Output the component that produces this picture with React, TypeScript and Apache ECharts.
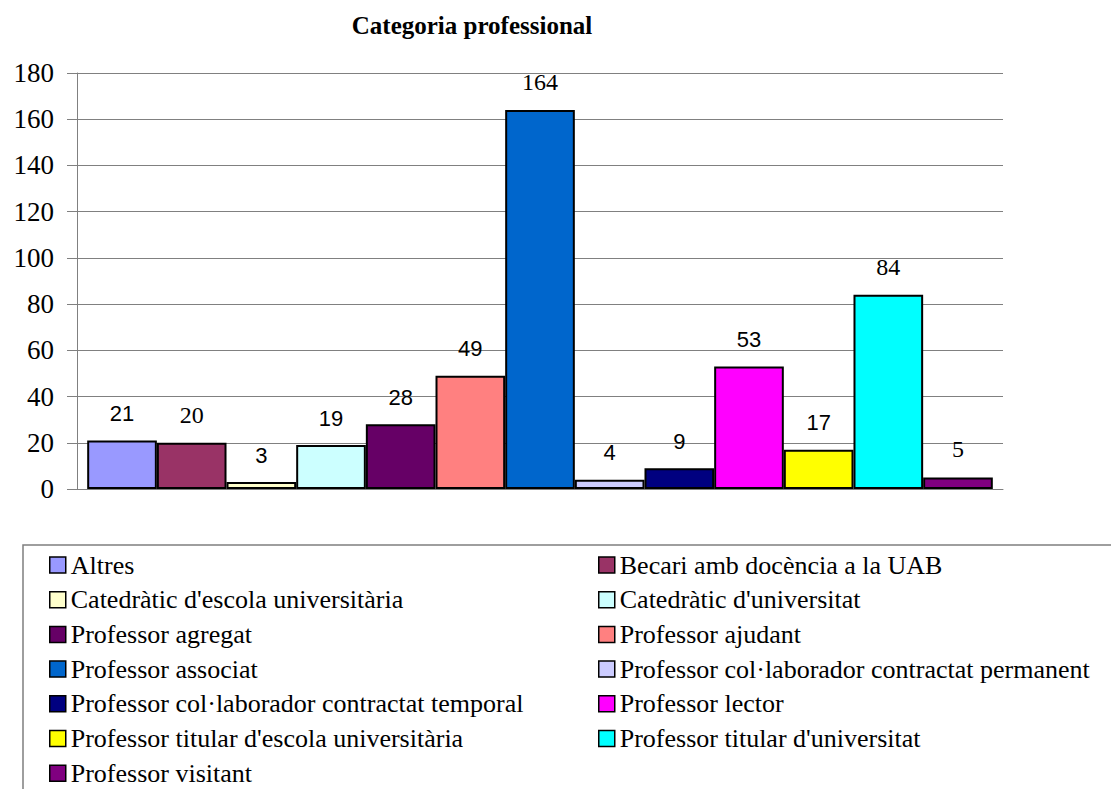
import React, { useEffect, useRef } from "react";
import * as echarts from "echarts";

const chartTitle = "Categoria professional";
const categories = [""];
const seriesNames = [
  "Altres",
  "Becari amb docència a la UAB",
  "Catedràtic d'escola universitària",
  "Catedràtic d'universitat",
  "Professor agregat",
  "Professor ajudant",
  "Professor associat",
  "Professor col·laborador contractat permanent",
  "Professor col·laborador contractat temporal",
  "Professor lector",
  "Professor titular d'escola universitària",
  "Professor titular d'universitat",
  "Professor visitant",
];
const seriesValues = [21, 20, 3, 19, 28, 49, 164, 4, 9, 53, 17, 84, 5];
const seriesColors = [
  "#9999FF",
  "#993366",
  "#FFFFCC",
  "#CCFFFF",
  "#660066",
  "#FF8080",
  "#0066CC",
  "#CCCCFF",
  "#000080",
  "#FF00FF",
  "#FFFF00",
  "#00FFFF",
  "#800080",
];
// label typeface per series (as rendered in the original)
const labelSerif = [false, true, false, false, false, false, true, false, false, false, false, true, true];
const yMin = 0;
const yMax = 180;
const yInterval = 20;

const SERIF = "Liberation Serif";
const SANS = "Liberation Sans";

export default function App() {
  const ref = useRef<HTMLDivElement>(null);

  useEffect(() => {
    if (!ref.current) return;
    const chart = echarts.init(ref.current, undefined, { renderer: "svg" });

    const series = seriesNames.map((name, i) => ({
      name,
      type: "bar",
      data: [seriesValues[i]],
      barGap: "0%",
      barCategoryGap: "2.2%",
      itemStyle: {
        color: seriesColors[i],
        borderColor: "#000",
        borderWidth: 2,
      },
      label: {
        show: true,
        position: "top",
        distance: 16,
        color: "#000",
        fontFamily: labelSerif[i] ? SERIF : SANS,
        fontSize: labelSerif[i] ? 24 : 22,
      },
    }));

    const leftNames = seriesNames.filter((_, i) => i % 2 === 0);
    const rightNames = seriesNames.filter((_, i) => i % 2 === 1);

    const legendCommon = {
      orient: "vertical",
      top: 552,
      padding: 0,
      itemGap: 8.7,
      itemWidth: 16,
      itemHeight: 16,
      icon: "rect",
      selectedMode: false,
      itemStyle: { borderColor: "#000", borderWidth: 1.5 },
      textStyle: {
        fontFamily: SERIF,
        fontSize: 26,
        lineHeight: 26,
        color: "#000",
      },
    };

    chart.setOption({
      animation: false,
      backgroundColor: "#fff",
      title: {
        text: chartTitle,
        left: 472,
        top: 13,
        padding: 0,
        textAlign: "center",
        textStyle: {
          fontFamily: SERIF,
          fontWeight: "bold",
          fontSize: 25,
          color: "#000",
        },
      },
      legend: [
        { ...legendCommon, left: 49, data: leftNames },
        { ...legendCommon, left: 598, data: rightNames },
      ],
      grid: {
        left: 77,
        right: 108,
        top: 73,
        bottom: 300,
        containLabel: false,
      },
      xAxis: {
        type: "category",
        data: categories,
        axisLine: { show: true, lineStyle: { color: "#808080", width: 1 } },
        axisTick: { show: false },
        axisLabel: { show: false },
      },
      yAxis: {
        type: "value",
        min: yMin,
        max: yMax,
        interval: yInterval,
        axisLine: { show: true, lineStyle: { color: "#808080", width: 1 } },
        axisTick: { show: true, length: 10, lineStyle: { color: "#808080" } },
        axisLabel: {
          margin: 23,
          fontFamily: SERIF,
          fontSize: 27,
          color: "#000",
        },
        splitLine: { show: true, lineStyle: { color: "#808080", width: 1 } },
      },
      graphic: [
        {
          type: "rect",
          shape: { x: 23, y: 545, width: 1200, height: 400 },
          style: { fill: "none", stroke: "#7f7f7f", lineWidth: 1.5 },
          silent: true,
        },
      ],
      series,
    });

    return () => chart.dispose();
  }, []);

  return (
    <div
      ref={ref}
      style={{ position: "fixed", left: 0, top: 0, width: 1111, height: 789 }}
    />
  );
}
